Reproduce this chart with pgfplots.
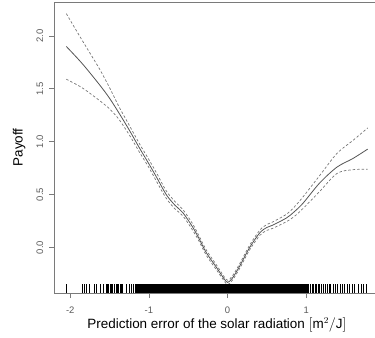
\documentclass[border=0pt]{standalone}
\usepackage{fontspec}
\setmainfont{Liberation Sans}
\usepackage{pgfplots}
\pgfplotsset{compat=1.18}
\definecolor{axgray}{HTML}{7A7A7A}
\definecolor{fitgray}{HTML}{555555}
\definecolor{bandgray}{HTML}{757575}
\definecolor{labgray}{HTML}{5A5A5A}
\begin{document}
\begin{tikzpicture}
\begin{axis}[
  scale only axis, width=325bp, height=291bp,
  xmin=-2.2, xmax=1.93, ymin=-0.43, ymax=2.32,
  axis line style={axgray, line width=0.6bp},
  xtick={-2,-1,0,1}, xticklabels={-2,-1,0,1},
  ytick={0,0.5,1,1.5,2}, yticklabels={0.0,0.5,1.0,1.5,2.0},
  tick align=outside, major tick length=5bp,
  major tick style={axgray, line width=0.6bp},
  xtick pos=bottom, ytick pos=left,
  ticklabel style={font=\fontsize{9.5}{11}\selectfont, text=labgray},
  xticklabel style={yshift=-5bp},
  yticklabel style={rotate=90, anchor=south, inner sep=6bp},
  xlabel={Prediction error of the solar radiation $[\mathrm{m}^2/\mathrm{J}]$},
  ylabel={Payoff},
  label style={font=\fontsize{13.5}{16}\selectfont},
  xlabel style={at={(axis description cs:0.5,-0.11)}, anchor=center},
  ylabel style={at={(axis description cs:-0.109,0.5)}, anchor=center},
]
\coordinate (o) at (rel axis cs:0,0);
% rug, sparse parts
\addplot[only marks, mark=|, mark size=4.35bp, mark options={line width=0.6bp, black}]
table[row sep=\\, y expr=-0.389] {x\\
-2.055\\ -1.851\\ -1.822\\ -1.792\\ -1.758\\ -1.694\\ -1.665\\ -1.622\\ -1.580\\ -1.545\\
-1.530\\ -1.515\\ -1.490\\ -1.475\\ -1.460\\ -1.440\\ -1.420\\ -1.405\\ -1.390\\ -1.370\\
-1.355\\ -1.334\\ -1.291\\ -1.248\\ -1.220\\ -1.193\\
1.00\\ 1.01\\ 1.03\\ 1.05\\ 1.07\\ 1.09\\ 1.11\\ 1.13\\ 1.15\\ 1.17\\ 1.19\\ 1.21\\ 1.24\\
1.27\\ 1.29\\ 1.31\\ 1.34\\ 1.37\\ 1.40\\ 1.43\\ 1.46\\ 1.48\\ 1.52\\ 1.55\\ 1.58\\ 1.61\\
1.66\\ 1.70\\ 1.72\\ 1.76\\
};
% rug, dense part
\addplot[only marks, mark=|, mark size=4.35bp, mark options={line width=1.8bp, black}]
table[row sep=\\, y expr=-0.389] {x\\
-1.16\\ -1.14\\ -1.12\\ -1.10\\ -1.08\\ -1.06\\ -1.04\\ -1.02\\ -1.00\\ -0.98\\ -0.96\\ -0.94\\
-0.92\\ -0.90\\ -0.88\\ -0.86\\ -0.84\\ -0.82\\ -0.80\\ -0.78\\ -0.76\\ -0.74\\ -0.72\\ -0.70\\
-0.68\\ -0.66\\ -0.64\\ -0.62\\ -0.60\\ -0.58\\ -0.56\\ -0.54\\ -0.52\\ -0.50\\ -0.48\\ -0.46\\
-0.44\\ -0.42\\ -0.40\\ -0.38\\ -0.36\\ -0.34\\ -0.32\\ -0.30\\ -0.28\\ -0.26\\ -0.24\\ -0.22\\
-0.20\\ -0.18\\ -0.16\\ -0.14\\ -0.12\\ -0.10\\ -0.08\\ -0.06\\ -0.04\\ -0.02\\ 0.00\\ 0.02\\
0.04\\ 0.06\\ 0.08\\ 0.10\\ 0.12\\ 0.14\\ 0.16\\ 0.18\\ 0.20\\ 0.22\\ 0.24\\ 0.26\\ 0.28\\
0.30\\ 0.32\\ 0.34\\ 0.36\\ 0.38\\ 0.40\\ 0.42\\ 0.44\\ 0.46\\ 0.48\\ 0.50\\ 0.52\\ 0.54\\
0.56\\ 0.58\\ 0.60\\ 0.62\\ 0.64\\ 0.66\\ 0.68\\ 0.70\\ 0.72\\ 0.74\\ 0.76\\ 0.78\\ 0.80\\
0.82\\ 0.84\\ 0.86\\ 0.88\\ 0.90\\ 0.92\\ 0.94\\ 0.96\\ 0.98\\
};
% fitted curve
\addplot[fitgray, line width=0.8bp, smooth] coordinates {
(-2.05,1.90) (-1.85,1.74) (-1.63,1.54) (-1.50,1.41) (-1.38,1.27) (-1.25,1.11) (-1.12,0.94) (-1.00,0.79)
(-0.90,0.66) (-0.78,0.50) (-0.67,0.40) (-0.57,0.33) (-0.45,0.20) (-0.36,0.08)
(-0.27,-0.05) (-0.14,-0.19) (-0.05,-0.29) (0,-0.33) (0.06,-0.29) (0.15,-0.18)
(0.28,0.0) (0.41,0.14) (0.50,0.19) (0.57,0.21) (0.75,0.28) (0.85,0.34) (0.96,0.42)
(1.17,0.61) (1.39,0.76) (1.59,0.84) (1.78,0.93)};
% upper band
\addplot[bandgray, line width=0.7bp, smooth, dash pattern=on 2.5bp off 2bp] coordinates {
(-2.05,2.21) (-1.85,1.96) (-1.63,1.69) (-1.50,1.51) (-1.38,1.33) (-1.25,1.155) (-1.12,0.98) (-1.00,0.83)
(-0.90,0.70) (-0.78,0.535) (-0.67,0.435) (-0.57,0.36) (-0.45,0.23) (-0.36,0.105)
(-0.27,-0.025) (-0.14,-0.167) (-0.05,-0.27) (0,-0.31) (0.06,-0.27) (0.15,-0.158)
(0.28,0.022) (0.41,0.165) (0.50,0.218) (0.57,0.24) (0.75,0.315) (0.85,0.385) (0.96,0.48)
(1.17,0.68) (1.39,0.89) (1.59,1.01) (1.78,1.13)};
% lower band
\addplot[bandgray, line width=0.7bp, smooth, dash pattern=on 2.5bp off 2bp] coordinates {
(-2.05,1.59) (-1.85,1.51) (-1.63,1.39) (-1.50,1.31) (-1.38,1.21) (-1.25,1.065) (-1.12,0.90) (-1.00,0.755)
(-0.90,0.62) (-0.78,0.465) (-0.67,0.365) (-0.57,0.30) (-0.45,0.17) (-0.36,0.055)
(-0.27,-0.075) (-0.14,-0.213) (-0.05,-0.31) (0,-0.35) (0.06,-0.31) (0.15,-0.202)
(0.28,-0.022) (0.41,0.115) (0.50,0.162) (0.57,0.18) (0.75,0.245) (0.85,0.295) (0.96,0.37)
(1.17,0.53) (1.39,0.70) (1.59,0.735) (1.78,0.74)};
\end{axis}
\pgfresetboundingbox
\path[use as bounding box] ([xshift=-54.5bp,yshift=-45bp]o) rectangle ([xshift=320.5bp,yshift=293bp]o);
\end{tikzpicture}
\end{document}
